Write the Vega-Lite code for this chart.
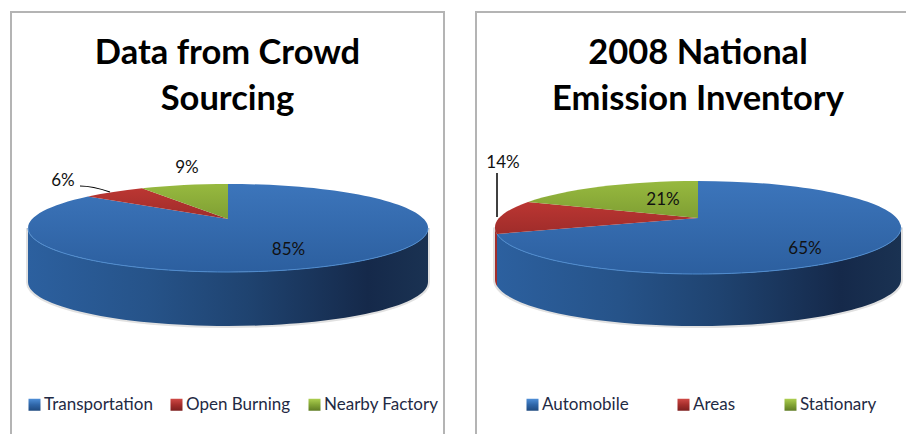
{
"$schema":"https://vega.github.io/schema/vega-lite/v6.json",
"padding":{"left":10,"top":11,"right":0,"bottom":0},
"autosize":{"type":"pad"},
"background":"white",
"spacing":30,
"resolve":{"scale":{"color":"independent","shape":"independent"},"legend":{"color":"independent"}},
"config":{"view":{"stroke":"#b4b4b4","strokeWidth":2},"font":"Lato",
"title":{"font":"Lato","fontWeight":"bold","fontSize":34.5,"lineHeight":46,"color":"#000000","anchor":"middle","frame":"group","baseline":"top","offset":-105},
"legend":{"labelFont":"Lato","labelFontSize":17,"labelColor":"#1f2a44","symbolSize":144,"symbolStrokeWidth":0,"labelOffset":1,"title":null,"orient":"none","direction":"horizontal","columns":3}},
"datasets":{"crowd":[
{"panel":"Data from Crowd Sourcing","category":"Transportation","share":0.85},
{"panel":"Data from Crowd Sourcing","category":"Open Burning","share":0.06},
{"panel":"Data from Crowd Sourcing","category":"Nearby Factory","share":0.09}],
"nei":[
{"panel":"2008 National Emission Inventory","category":"Automobile","share":0.65},
{"panel":"2008 National Emission Inventory","category":"Areas","share":0.14},
{"panel":"2008 National Emission Inventory","category":"Stationary","share":0.21}]},
"hconcat":[
{"width":433,"height":426,"data":{"name":"crowd"},
"title":{"text":["Data from Crowd","Sourcing"]},
"encoding":{"x":{"field":"panel","type":"nominal","axis":null,"scale":{"type":"point"}},"y":{"field":"panel","type":"nominal","axis":null,"scale":{"type":"point"}}},
"resolve":{"scale":{"color":"independent"},"legend":{"color":"independent"}},
"layer":[
{"transform":[{"filter":"datum.category==='Transportation'"}],"mark":{"type":"point","filled":false,"size":4,"opacity":0.45,"stroke":"#bdbdbd","strokeWidth":4,"shape":"M-199.5,3A200,44 0 0 0 200.5,3L200.5,57A200,44 0 0 1 -199.5,57Z"}},
{"transform":[{"filter":"datum.category==='Transportation'"}],"mark":{"type":"point","filled":true,"size":4,"opacity":1,"strokeWidth":0,"shape":"M-199.5,3A200,44 0 0 0 200.5,3L200.5,57A200,44 0 0 1 -199.5,57Z","fill":{"gradient":"linear","x1":0,"y1":0,"x2":1,"y2":0,"stops":[{"offset":0,"color":"#2c609f"},{"offset":0.3,"color":"#265389"},{"offset":0.55,"color":"#1f4370"},{"offset":0.85,"color":"#15294a"},{"offset":1,"color":"#1a3252"}]}}},
{"mark":{"type":"point","filled":true,"size":4,"opacity":1,"strokeWidth":0},
"encoding":{"shape":{"field":"category","type":"nominal","legend":null,"scale":{"domain":["Transportation","Open Burning","Nearby Factory"],"range":["M0.5,-6L0.5,-41A200,44 0 1 1 -139.5,-28.4Z","M0.5,-6L-139.5,-28.4A200,44 0 0 1 -85.5,-36.7Z","M0.5,-6L-85.5,-36.7A200,44 0 0 1 0.5,-41Z"]}},
"color":{"field":"category","type":"nominal","legend":null,"scale":{"domain":["Transportation","Open Burning","Nearby Factory"],"range":[{"expr":"{gradient:'linear',x1:0,y1:0,x2:0,y2:1,stops:[{offset:0,color:'#3c75bb'},{offset:1,color:'#2c5f9f'}]}"},{"expr":"{gradient:'linear',x1:0,y1:0,x2:0,y2:1,stops:[{offset:0,color:'#bb3632'},{offset:1,color:'#9f2c2a'}]}"},{"expr":"{gradient:'linear',x1:0,y1:0,x2:0,y2:1,stops:[{offset:0,color:'#97b93f'},{offset:1,color:'#7f9f33'}]}"}]}}}},
{"mark":{"type":"point","filled":true,"size":0,"opacity":1,"strokeWidth":0},
"encoding":{"color":{"field":"category","type":"nominal","scale":{"domain":["Transportation","Open Burning","Nearby Factory"],"range":[{"expr":"{gradient:'linear',x1:0,y1:0,x2:0,y2:1,stops:[{offset:0,color:'#4f8fd8'},{offset:0.5,color:'#2f66a8'},{offset:1,color:'#1f4a80'}]}"},{"expr":"{gradient:'linear',x1:0,y1:0,x2:0,y2:1,stops:[{offset:0,color:'#d04a46'},{offset:0.5,color:'#a52e2c'},{offset:1,color:'#7c1f1e'}]}"},{"expr":"{gradient:'linear',x1:0,y1:0,x2:0,y2:1,stops:[{offset:0,color:'#adcf50'},{offset:0.5,color:'#83a535'},{offset:1,color:'#5f7c24'}]}"}]},"legend":{"symbolType":"square","legendX":15,"legendY":384,"columnPadding":15}}}},
{"transform":[{"filter":"datum.category==='Transportation'"}],"mark":{"type":"point","filled":false,"size":4,"opacity":1,"stroke":"#4f8ccf","strokeWidth":1,"shape":"M-199.5,3A200,44 0 0 0 200.5,3"}},
{"transform":[{"filter":"datum.category==='Open Burning'"}],"mark":{"type":"point","filled":false,"size":4,"opacity":1,"stroke":"#000000","strokeWidth":1.2,"shape":"M-147.5,-39Q-135,-39 -117.5,-33"}},
{"transform":[{"filter":"datum.category==='Transportation'"}],"mark":{"type":"text","fontSize":17,"color":"#111111","dx":61,"dy":25},"encoding":{"text":{"field":"share","type":"quantitative","format":".0%"}}},
{"transform":[{"filter":"datum.category==='Open Burning'"}],"mark":{"type":"text","fontSize":17,"color":"#111111","dx":-164.5,"dy":-44},"encoding":{"text":{"field":"share","type":"quantitative","format":".0%"}}},
{"transform":[{"filter":"datum.category==='Nearby Factory'"}],"mark":{"type":"text","fontSize":17,"color":"#111111","dx":-40.5,"dy":-57},"encoding":{"text":{"field":"share","type":"quantitative","format":".0%"}}}
]},
{"width":444,"height":426,"data":{"name":"nei"},
"title":{"text":["2008 National","Emission Inventory"]},
"encoding":{"x":{"field":"panel","type":"nominal","axis":null,"scale":{"type":"point"}},"y":{"field":"panel","type":"nominal","axis":null,"scale":{"type":"point"}}},
"resolve":{"scale":{"color":"independent"},"legend":{"color":"independent"}},
"layer":[
{"transform":[{"filter":"datum.category==='Automobile'"}],"mark":{"type":"point","filled":false,"size":4,"opacity":0.45,"stroke":"#bdbdbd","strokeWidth":4,"shape":"M-203,2.5A203,46.5 0 0 0 203,2.5L203,54.5A203,46.5 0 0 1 -203,54.5Z"}},
{"transform":[{"filter":"datum.category==='Automobile'"}],"mark":{"type":"point","filled":true,"size":4,"opacity":1,"strokeWidth":0,"shape":"M-201,9A203,46.5 0 0 0 203,2.5L203,54.5A203,46.5 0 0 1 -201,61Z","fill":{"gradient":"linear","x1":0,"y1":0,"x2":1,"y2":0,"stops":[{"offset":0,"color":"#2c609f"},{"offset":0.3,"color":"#265389"},{"offset":0.55,"color":"#1f4370"},{"offset":0.85,"color":"#15294a"},{"offset":1,"color":"#1a3252"}]}}},
{"transform":[{"filter":"datum.category==='Areas'"}],"mark":{"type":"point","filled":true,"size":4,"opacity":1,"strokeWidth":0,"fill":"#a32d2b","shape":"M-203,2.5A203,46.5 0 0 0 -201,9L-201,61A203,46.5 0 0 1 -203,54.5Z"}},
{"mark":{"type":"point","filled":true,"size":4,"opacity":1,"strokeWidth":0},
"encoding":{"shape":{"field":"category","type":"nominal","legend":null,"scale":{"domain":["Automobile","Areas","Stationary"],"range":["M0,-7L0,-44A203,46.5 0 1 1 -201,9Z","M0,-7L-201,9A203,46.5 0 0 1 -170,-23Z","M0,-7L-170,-23A203,46.5 0 0 1 0,-44Z"]}},
"color":{"field":"category","type":"nominal","legend":null,"scale":{"domain":["Automobile","Areas","Stationary"],"range":[{"expr":"{gradient:'linear',x1:0,y1:0,x2:0,y2:1,stops:[{offset:0,color:'#3c75bb'},{offset:1,color:'#2c5f9f'}]}"},{"expr":"{gradient:'linear',x1:0,y1:0,x2:0,y2:1,stops:[{offset:0,color:'#bb3632'},{offset:1,color:'#9f2c2a'}]}"},{"expr":"{gradient:'linear',x1:0,y1:0,x2:0,y2:1,stops:[{offset:0,color:'#97b93f'},{offset:1,color:'#7f9f33'}]}"}]}}}},
{"mark":{"type":"point","filled":true,"size":0,"opacity":1,"strokeWidth":0},
"encoding":{"color":{"field":"category","type":"nominal","scale":{"domain":["Automobile","Areas","Stationary"],"range":[{"expr":"{gradient:'linear',x1:0,y1:0,x2:0,y2:1,stops:[{offset:0,color:'#4f8fd8'},{offset:0.5,color:'#2f66a8'},{offset:1,color:'#1f4a80'}]}"},{"expr":"{gradient:'linear',x1:0,y1:0,x2:0,y2:1,stops:[{offset:0,color:'#d04a46'},{offset:0.5,color:'#a52e2c'},{offset:1,color:'#7c1f1e'}]}"},{"expr":"{gradient:'linear',x1:0,y1:0,x2:0,y2:1,stops:[{offset:0,color:'#adcf50'},{offset:0.5,color:'#83a535'},{offset:1,color:'#5f7c24'}]}"}]},"legend":{"symbolType":"square","legendX":48,"legendY":384,"columnPadding":46}}}},
{"transform":[{"filter":"datum.category==='Automobile'"}],"mark":{"type":"point","filled":false,"size":4,"opacity":1,"stroke":"#4f8ccf","strokeWidth":1,"shape":"M-201,9A203,46.5 0 0 0 203,2.5"}},
{"transform":[{"filter":"datum.category==='Areas'"}],"mark":{"type":"point","filled":false,"size":4,"opacity":1,"stroke":"#000000","strokeWidth":1.5,"shape":"M-201,-52L-201,-8"}},
{"transform":[{"filter":"datum.category==='Automobile'"}],"mark":{"type":"text","fontSize":17,"color":"#111111","dx":107,"dy":24},"encoding":{"text":{"field":"share","type":"quantitative","format":".0%"}}},
{"transform":[{"filter":"datum.category==='Areas'"}],"mark":{"type":"text","fontSize":17,"color":"#111111","dx":-195,"dy":-62},"encoding":{"text":{"field":"share","type":"quantitative","format":".0%"}}},
{"transform":[{"filter":"datum.category==='Stationary'"}],"mark":{"type":"text","fontSize":17,"color":"#111111","dx":-35,"dy":-25},"encoding":{"text":{"field":"share","type":"quantitative","format":".0%"}}}
]}
]
}
